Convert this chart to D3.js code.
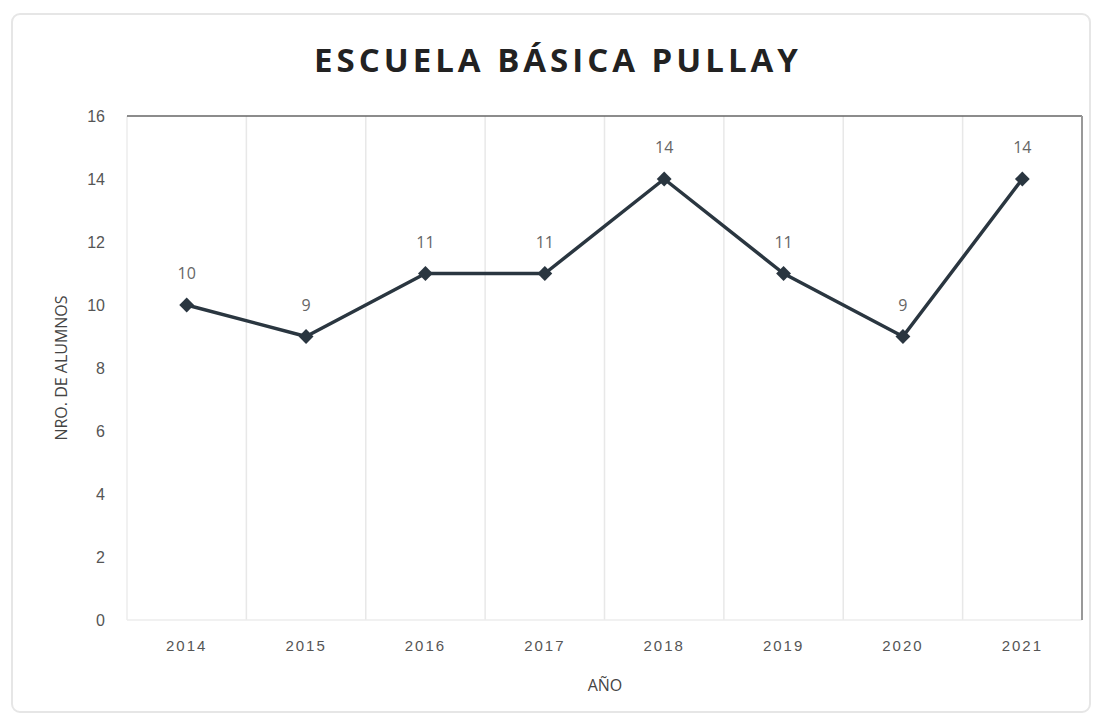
<!DOCTYPE html>
<html lang="es">
<head>
<meta charset="utf-8">
<title>Escuela Básica Pullay</title>
<script src="https://cdn.jsdelivr.net/npm/d3@7"></script>
<style>
  body { margin: 0; background: #fff; }
  svg { display: block; font-family: "Open Sans", sans-serif; }
</style>
</head>
<body>
<script>
// Datos
var years = ["2014", "2015", "2016", "2017", "2018", "2019", "2020", "2021"];
var students = [10, 9, 11, 11, 14, 11, 9, 14];
var yTicks = [0, 2, 4, 6, 8, 10, 12, 14, 16];

var w = 1100, h = 720;
var margin = { top: 116, right: 18, bottom: 100, left: 127 };
var iw = w - margin.left - margin.right;
var ih = h - margin.top - margin.bottom;

var svg = d3.select("body").append("svg")
  .attr("width", w)
  .attr("height", h);

// marco exterior
svg.append("rect")
  .attr("x", 12).attr("y", 14)
  .attr("width", 1078).attr("height", 698)
  .attr("rx", 8)
  .attr("fill", "#fff")
  .attr("stroke", "#e6e6e6")
  .attr("stroke-width", 2);

var xScale = d3.scaleBand().domain(years).range([0, iw]);
var yScale = d3.scaleLinear().domain([0, 16]).range([ih, 0]);

var g = svg.append("g").attr("transform", "translate(" + margin.left + "," + margin.top + ")");

// líneas de división verticales
g.selectAll("line.grid")
  .data(years.slice(1))
  .enter().append("line")
  .attr("class", "grid")
  .attr("x1", function(d) { return xScale(d); })
  .attr("x2", function(d) { return xScale(d); })
  .attr("y1", 0).attr("y2", ih)
  .attr("stroke", "#e8e8e8")
  .attr("stroke-width", 1.5);

// bordes del área
g.append("line").attr("x1", 0).attr("x2", 0).attr("y1", 0).attr("y2", ih)
  .attr("stroke", "#ececec").attr("stroke-width", 1.5);
g.append("line").attr("x1", 0).attr("x2", iw).attr("y1", ih).attr("y2", ih)
  .attr("stroke", "#ececec").attr("stroke-width", 1.5);
g.append("line").attr("x1", 0).attr("x2", iw).attr("y1", 0).attr("y2", 0)
  .attr("stroke", "#666").attr("stroke-width", 1.5);
g.append("line").attr("x1", iw).attr("x2", iw).attr("y1", 0).attr("y2", ih)
  .attr("stroke", "#999").attr("stroke-width", 2);

// eje Y
var yAxis = g.append("g")
  .call(d3.axisLeft(yScale).tickValues(yTicks).tickSize(0).tickPadding(22));
yAxis.select(".domain").remove();
yAxis.selectAll("text")
  .attr("font-size", 16)
  .attr("fill", "#555");

// eje X
var xAxis = g.append("g")
  .attr("transform", "translate(0," + ih + ")")
  .call(d3.axisBottom(xScale).tickSize(0).tickPadding(20));
xAxis.select(".domain").remove();
xAxis.selectAll("text")
  .attr("font-size", 15)
  .attr("letter-spacing", 2)
  .attr("fill", "#555");

// línea
var line = d3.line()
  .x(function(d, i) { return xScale(years[i]) + xScale.bandwidth() / 2; })
  .y(function(d) { return yScale(d); });

g.append("path")
  .datum(students)
  .attr("d", line)
  .attr("fill", "none")
  .attr("stroke", "#2a3640")
  .attr("stroke-width", 3.5)
  .attr("stroke-linejoin", "round");

// marcadores (cuadrado girado 45°)
g.selectAll("path.marker")
  .data(students)
  .enter().append("path")
  .attr("class", "marker")
  .attr("d", d3.symbol().type(d3.symbolSquare).size(110))
  .attr("transform", function(d, i) {
    return "translate(" + (xScale(years[i]) + xScale.bandwidth() / 2) + "," + yScale(d) + ") rotate(45)";
  })
  .attr("fill", "#2a3640");

// etiquetas de datos
g.selectAll("text.lbl")
  .data(students)
  .enter().append("text")
  .attr("class", "lbl")
  .attr("x", function(d, i) { return xScale(years[i]) + xScale.bandwidth() / 2; })
  .attr("y", function(d) { return yScale(d) - 26; })
  .attr("text-anchor", "middle")
  .attr("font-size", 16)
  .attr("fill", "#666")
  .text(function(d) { return d; });

// título
svg.append("text")
  .attr("x", 558).attr("y", 72)
  .attr("text-anchor", "middle")
  .attr("font-size", 33)
  .attr("font-weight", "bold")
  .attr("letter-spacing", 4)
  .attr("fill", "#222")
  .text("ESCUELA BÁSICA PULLAY");

// títulos de ejes
svg.append("text")
  .attr("x", 605).attr("y", 691)
  .attr("text-anchor", "middle")
  .attr("font-size", 16)
  .attr("fill", "#444")
  .text("AÑO");

svg.append("text")
  .attr("transform", "translate(67,368) rotate(-90)")
  .attr("text-anchor", "middle")
  .attr("font-size", 16)
  .attr("fill", "#444")
  .text("NRO. DE ALUMNOS");
</script>
</body>
</html>
